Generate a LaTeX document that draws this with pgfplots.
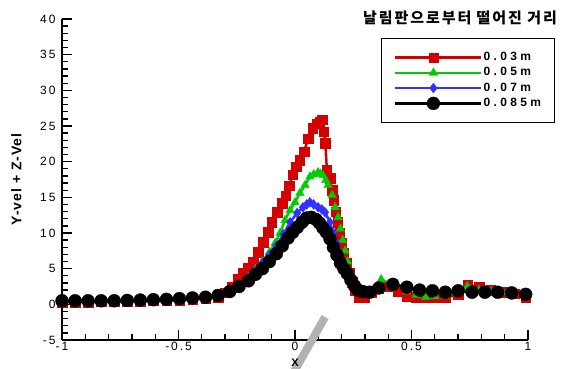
\documentclass[border=0pt]{standalone}
\usepackage{fontspec}
\setmainfont{Liberation Sans}
\newfontfamily\spc[LetterSpace=16]{Liberation Sans}
\newfontfamily\spl[LetterSpace=28]{Liberation Sans}
\newfontfamily\kr[LetterSpace=13]{Noto Sans CJK KR}
\usepackage{pgfplots}
\pgfplotsset{compat=1.18}
\definecolor{cred}{RGB}{210,0,0}
\definecolor{cgreen}{RGB}{0,205,0}
\definecolor{cblue}{RGB}{50,50,255}
\begin{document}
\begin{tikzpicture}
\begin{axis}[name=ax,
  scale only axis, width=466pt, height=321pt,
  xmin=-1, xmax=1, ymin=-5, ymax=40,
  axis lines=left, axis line style={-, line width=2.2pt},
  clip=false,
  xtick={-1,-0.5,0,0.5,1}, xticklabels={-1,-0.5,0,0.5,1},
  ytick={-5,0,5,10,15,20,25,30,35,40}, yticklabels={-5,0,5,10,15,20,25,30,35,40},
  minor x tick num=4, minor y tick num=4,
  tick align=inside,
  major tick length=10pt, minor tick length=6pt,
  tick style={line width=1.3pt, black},
  ticklabel style={font=\fontsize{12}{13}\selectfont\spc},
  yticklabel style={xshift=-3pt},
  xticklabel style={yshift=1pt},
  xlabel={\bfseries X}, xlabel style={at={(axis description cs:0.5,0)}, anchor=north, yshift=-15pt, font=\fontsize{11}{12}\selectfont},
  ylabel={\bfseries Y-vel + Z-Vel}, ylabel style={at={(axis description cs:0,0.5)}, anchor=south, xshift=0pt, yshift=37pt, font=\fontsize{14}{15}\selectfont\addfontfeatures{LetterSpace=7}},
  legend cell align=left,
  legend image code/.code={\draw[mark repeat=2,mark phase=2,#1] plot coordinates {(0pt,0pt) (38.5pt,0pt) (77pt,0pt)}; \path (0pt,0pt) -- (86pt,0pt);},
  legend style={at={(1.058,0.941)}, anchor=north east, draw=black, line width=0.8pt,
    font=\fontsize{12}{13}\selectfont\bfseries\spl, inner xsep=12pt, inner ysep=11.5pt,
    row sep=0pt, nodes={inner sep=1.5pt, text height=9.3pt, text depth=3pt},
    /tikz/every even column/.append style={column sep=0pt}},
]
\addplot[color=cred, line width=2.5pt, mark=square*, mark size=4.7pt, mark options={solid, line width=0.3pt}] coordinates {
(-1.0,0.3) (-0.944,0.3) (-0.888,0.3) (-0.832,0.35) (-0.776,0.4) (-0.72,0.4) (-0.664,0.45) (-0.608,0.5) (-0.552,0.55) (-0.496,0.6) (-0.44,0.7) (-0.384,0.8) (-0.33,1.0) (-0.30,1.6) (-0.27,2.4) (-0.245,3.6) (-0.223,4.4) (-0.202,5.1) (-0.18,5.9) (-0.159,7.3) (-0.137,8.7) (-0.116,10.1) (-0.099,11.5) (-0.077,12.9) (-0.056,14.2) (-0.04,15.2) (-0.025,16.6) (-0.01,18.2) (0.005,19.3) (0.021,20.2) (0.039,21.4) (0.056,23.2) (0.077,24.7) (0.095,25.3) (0.107,25.6) (0.116,25.9) (0.124,24.2) (0.13,22.6) (0.137,18.8) (0.150,17.7) (0.159,16.0) (0.167,14.6) (0.175,13.0) (0.183,11.5) (0.192,10.0) (0.20,8.6) (0.21,7.2) (0.22,5.8) (0.232,4.4) (0.245,3.1) (0.258,2.0) (0.275,1.0) (0.30,0.9) (0.33,1.6) (0.36,2.2) (0.40,2.5) (0.44,1.8) (0.48,1.1) (0.52,1.0) (0.555,0.9) (0.60,1.0) (0.645,0.9) (0.70,1.4) (0.74,2.7) (0.79,2.5) (0.84,2.0) (0.89,1.7) (0.94,1.5) (0.99,1.0)
};
\addlegendentry{0.03m}
\addplot[color=cgreen, line width=2.5pt, mark=triangle*, mark size=5pt, mark options={solid, line width=0.3pt}] coordinates {
(-1.0,0.5) (-0.944,0.5) (-0.888,0.5) (-0.832,0.5) (-0.776,0.5) (-0.72,0.55) (-0.664,0.6) (-0.608,0.65) (-0.552,0.7) (-0.496,0.8) (-0.44,0.9) (-0.384,1.0) (-0.33,1.3) (-0.28,1.9) (-0.24,2.7) (-0.2,3.8) (-0.17,4.9) (-0.14,6.0) (-0.11,7.3) (-0.085,8.6) (-0.064,10.0) (-0.043,11.8) (-0.021,13.2) (0.0,14.3) (0.021,15.6) (0.043,16.7) (0.064,17.9) (0.08,18.2) (0.099,18.5) (0.11,18.3) (0.12,18.1) (0.132,17.4) (0.142,16.7) (0.159,15.3) (0.172,13.6) (0.185,12.2) (0.195,10.6) (0.205,9.0) (0.215,7.5) (0.225,6.0) (0.235,4.7) (0.245,3.5) (0.26,2.4) (0.28,1.5) (0.30,1.4) (0.33,1.9) (0.37,3.5) (0.42,2.7) (0.48,1.8) (0.52,1.3) (0.56,1.0) (0.60,1.1) (0.645,1.2) (0.70,2.0) (0.74,2.5) (0.79,2.0) (0.84,1.8) (0.89,1.7) (0.94,1.6) (0.99,1.5)
};
\addlegendentry{0.05m}
\addplot[color=cblue, line width=2.5pt, mark=diamond*, mark size=5pt, mark options={solid, line width=0.3pt}] coordinates {
(-1.0,0.5) (-0.944,0.5) (-0.888,0.5) (-0.832,0.5) (-0.776,0.5) (-0.72,0.55) (-0.664,0.6) (-0.608,0.65) (-0.552,0.7) (-0.496,0.8) (-0.44,0.9) (-0.384,1.0) (-0.33,1.3) (-0.28,1.9) (-0.24,2.7) (-0.2,3.7) (-0.17,4.7) (-0.14,5.8) (-0.11,6.9) (-0.08,8.2) (-0.05,9.8) (-0.021,11.5) (0.009,12.8) (0.034,13.6) (0.05,14.0) (0.064,14.3) (0.08,14.0) (0.099,13.6) (0.115,13.3) (0.129,12.9) (0.15,11.5) (0.165,10.0) (0.18,8.5) (0.195,7.0) (0.21,5.6) (0.225,4.3) (0.24,3.2) (0.255,2.3) (0.27,1.7) (0.29,1.6) (0.32,1.8) (0.36,2.5) (0.42,2.7) (0.48,2.2) (0.535,1.8) (0.59,1.6) (0.645,1.5) (0.70,2.0) (0.76,1.9) (0.815,1.7) (0.87,1.7) (0.93,1.7) (0.99,1.5)
};
\addlegendentry{0.07m}
\addplot[color=black, line width=2.5pt, mark=*, mark size=6.5pt, mark options={solid, line width=0.3pt}] coordinates {
(-1.0,0.5) (-0.944,0.5) (-0.888,0.5) (-0.832,0.5) (-0.776,0.5) (-0.72,0.55) (-0.664,0.6) (-0.608,0.65) (-0.552,0.7) (-0.496,0.8) (-0.44,0.9) (-0.384,1.0) (-0.33,1.25) (-0.28,1.8) (-0.24,2.5) (-0.2,3.3) (-0.17,4.2) (-0.14,5.0) (-0.11,6.0) (-0.08,7.1) (-0.055,8.2) (-0.03,9.3) (-0.01,10.1) (0.01,10.8) (0.03,11.5) (0.05,12.1) (0.07,12.2) (0.09,11.9) (0.105,11.4) (0.12,10.7) (0.135,10.1) (0.15,9.2) (0.165,8.0) (0.18,6.9) (0.195,5.8) (0.21,5.0) (0.225,4.3) (0.24,3.4) (0.255,2.6) (0.27,2.0) (0.29,1.8) (0.32,1.7) (0.36,2.3) (0.42,2.8) (0.48,2.4) (0.535,2.0) (0.59,1.9) (0.645,1.7) (0.70,1.9) (0.76,1.7) (0.815,1.7) (0.87,1.7) (0.93,1.6) (0.99,1.4)
};
\addlegendentry{0.085m}
\node[font=\fontsize{15}{16}\selectfont\kr\bfseries, anchor=center] at (rel axis cs:0.854,1.003) {날림판으로부터 떨어진 거리};
\draw[color={rgb,255:red,178;green,178;blue,178}, line width=8pt] (axis cs:0.129,-1.78) -- (axis cs:-0.021,-10.4);
\end{axis}
\pgfresetboundingbox
\path[use as bounding box] ([xshift=-62pt,yshift=-28pt]ax.south west) rectangle ([xshift=38pt,yshift=19pt]ax.north east);
\end{tikzpicture}
\end{document}
